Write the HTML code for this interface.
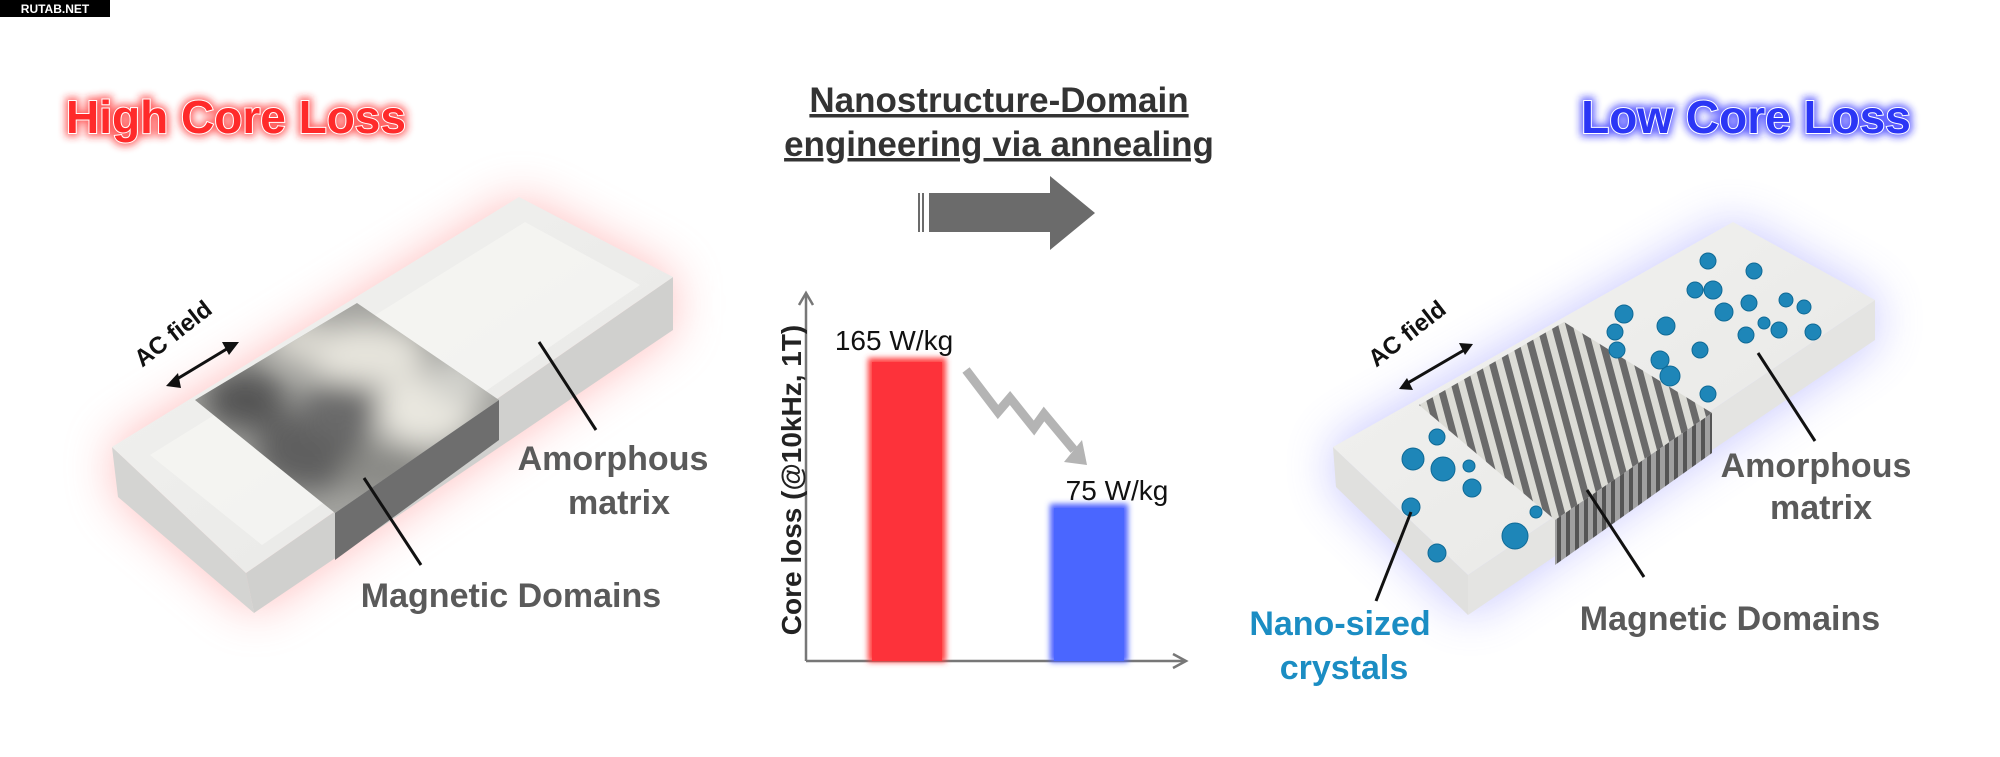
<!DOCTYPE html>
<html><head><meta charset="utf-8"><style>
html,body{margin:0;padding:0;background:#fff;width:2000px;height:757px;overflow:hidden}
svg{display:block}
text{font-family:"Liberation Sans",Arial,sans-serif;font-weight:bold}
</style></head><body>
<svg width="2000" height="757" viewBox="0 0 2000 757" xmlns="http://www.w3.org/2000/svg">
<defs>
<filter id="blur" x="-30%" y="-50%" width="160%" height="200%"><feGaussianBlur stdDeviation="24"/></filter>
<filter id="sb" x="-20%" y="-20%" width="140%" height="140%"><feGaussianBlur stdDeviation="3"/></filter>
<filter id="blob" x="-50%" y="-50%" width="200%" height="200%"><feGaussianBlur stdDeviation="14"/></filter>
<filter id="tglowR" x="-10%" y="-40%" width="120%" height="180%"><feGaussianBlur stdDeviation="4"/></filter>
<linearGradient id="topg" x1="0" y1="0" x2="1" y2="1"><stop offset="0" stop-color="#f3f3f1"/><stop offset="1" stop-color="#e6e6e4"/></linearGradient>
<clipPath id="ldom"><polygon points="195,400 357,303 499,400 335,513"/></clipPath>
<clipPath id="rdom"><polygon points="1419,405 1564,322 1712,413 1555,520"/></clipPath>
<pattern id="stripe" width="14" height="14" patternUnits="userSpaceOnUse" patternTransform="rotate(-15)">
<rect width="14" height="14" fill="#dcdcd6"/><rect width="7" height="14" fill="#6a6a6a"/></pattern>
<pattern id="vstripe" width="9" height="10" patternUnits="userSpaceOnUse"><rect width="9" height="10" fill="#a0a0a0"/><rect width="4" height="10" fill="#555"/></pattern>
</defs>

<rect x="0" y="0" width="110" height="17" fill="#000"/>
<text x="55" y="13" font-size="12" fill="#fff" text-anchor="middle">RUTAB.NET</text>

<g font-size="46">
<text x="236" y="133" text-anchor="middle" fill="#ff2020" stroke="#ff2020" stroke-width="7" filter="url(#tglowR)" opacity="0.7">High Core Loss</text>
<text x="236" y="133" text-anchor="middle" fill="#ff2a2a" stroke="#fff" stroke-width="2" paint-order="stroke">High Core Loss</text>
<text x="1746" y="133" text-anchor="middle" fill="#1a1aff" stroke="#1a1aff" stroke-width="7" filter="url(#tglowR)" opacity="0.7">Low Core Loss</text>
<text x="1746" y="133" text-anchor="middle" fill="#2b36f5" stroke="#fff" stroke-width="2" paint-order="stroke">Low Core Loss</text>
</g>
<g font-size="35" fill="#333" text-anchor="middle">
<text x="999" y="112" text-decoration="underline">Nanostructure-Domain</text>
<text x="999" y="156" text-decoration="underline">engineering via annealing</text>
</g>

<g fill="#6b6b6b">
<rect x="918" y="193" width="2" height="39"/><rect x="922" y="193" width="2" height="39"/>
<polygon points="929,193 1050,193 1050,176 1095,213 1050,250 1050,232 929,232"/>
</g>

<g stroke="#777" stroke-width="2.5" fill="none">
<line x1="806" y1="661" x2="806" y2="294"/>
<polyline points="799,305 806,293 813,305"/>
<line x1="806" y1="661" x2="1185" y2="661"/>
<polyline points="1173,654 1186,661 1173,668"/>
</g>
<rect x="868" y="358" width="78" height="304" fill="#ff4040" filter="url(#sb)"/>
<rect x="872" y="362" width="70" height="299" fill="#fd323a"/>
<rect x="1050" y="504" width="78" height="158" fill="#4d62ff" filter="url(#sb)"/>
<rect x="1054" y="508" width="70" height="153" fill="#4a66ff"/>
<text x="894" y="350" font-size="28" fill="#111" text-anchor="middle" style="font-weight:normal">165 W/kg</text>
<text x="1117" y="500" font-size="28" fill="#111" text-anchor="middle" style="font-weight:normal">75 W/kg</text>
<text transform="translate(801,480) rotate(-90)" font-size="28" fill="#222" text-anchor="middle">Core loss (@10kHz, 1T)</text>
<polyline points="966,370 998,412 1010,398 1034,428 1044,414 1074,450" fill="none" stroke="#b4b4b4" stroke-width="9"/>
<polygon points="1064,462 1087,465 1082,440" fill="#b4b4b4"/>

<!-- LEFT SLAB -->
<polygon points="112,447 519,197 673,277 673,330 254,613 118,497" fill="#ff8080" opacity="0.5" filter="url(#blur)"/>
<polygon points="112,447 246,573 254,613 118,497" fill="#d4d4d2"/>
<polygon points="246,573 673,277 673,330 254,613" fill="#d0d0ce"/>
<polygon points="112,447 519,197 673,277 246,573" fill="url(#topg)"/>
<polygon points="150,455 525,222 640,285 262,545" fill="#f6f6f3" opacity="0.7"/>
<g clip-path="url(#ldom)">
<rect x="190" y="300" width="315" height="215" fill="#a2a29e"/>
<g filter="url(#blob)">
<ellipse cx="310" cy="450" rx="55" ry="40" fill="#5e5e5e"/>
<ellipse cx="365" cy="355" rx="60" ry="30" fill="#e6e4dc"/>
<ellipse cx="425" cy="410" rx="50" ry="35" fill="#e9e7df"/>
<ellipse cx="340" cy="410" rx="40" ry="28" fill="#6a6a6a"/>
<ellipse cx="245" cy="400" rx="40" ry="30" fill="#555"/>
<ellipse cx="390" cy="470" rx="50" ry="25" fill="#8a8a86"/>
<ellipse cx="460" cy="380" rx="30" ry="25" fill="#d0d0cb"/>
<ellipse cx="300" cy="340" rx="30" ry="22" fill="#d9d7cf"/>
</g>
</g>
<polygon points="335,513 499,400 499,440 335,560" fill="#6e6e6e"/>

<g stroke="#111" stroke-width="3"><line x1="539" y1="342" x2="596" y2="430"/><line x1="364" y1="478" x2="421" y2="565"/>
<line x1="172" y1="382" x2="230" y2="347"/></g>
<polygon points="166,386 178,373 181,388" fill="#111"/>
<polygon points="239,342 222,342 229,355" fill="#111"/>
<text transform="translate(178,340) rotate(-38)" font-size="24" fill="#111" text-anchor="middle">AC field</text>
<g font-size="34" fill="#5a5a5a" text-anchor="middle">
<text x="613" y="470">Amorphous</text>
<text x="619" y="514">matrix</text>
<text x="511" y="607">Magnetic Domains</text>
</g>

<!-- RIGHT SLAB -->
<polygon points="1333,447 1733,222 1875,300 1875,340 1468,615 1336,487" fill="#7d7dff" opacity="0.45" filter="url(#blur)"/>
<polygon points="1333,447 1468,575 1468,615 1336,487" fill="#e0e0de"/>
<polygon points="1468,575 1875,300 1875,340 1468,615" fill="#e4e4e2"/>
<polygon points="1333,447 1733,222 1875,300 1468,575" fill="url(#topg)"/>
<g clip-path="url(#rdom)"><rect x="1400" y="300" width="330" height="230" fill="url(#stripe)"/></g>
<polygon points="1555,520 1712,413 1712,453 1555,565" fill="url(#vstripe)"/>

<g fill="#1e86b8" stroke="#0f6a96" stroke-width="1">
<circle cx="1708" cy="261" r="8"/><circle cx="1754" cy="271" r="8"/><circle cx="1695" cy="290" r="8"/><circle cx="1713" cy="290" r="9"/>
<circle cx="1724" cy="312" r="9"/><circle cx="1749" cy="303" r="8"/><circle cx="1786" cy="300" r="7"/><circle cx="1804" cy="307" r="7"/>
<circle cx="1764" cy="323" r="6"/><circle cx="1779" cy="330" r="8"/><circle cx="1813" cy="332" r="8"/><circle cx="1746" cy="335" r="8"/>
<circle cx="1624" cy="314" r="9"/><circle cx="1666" cy="326" r="9"/><circle cx="1615" cy="332" r="8"/><circle cx="1617" cy="350" r="8"/>
<circle cx="1700" cy="350" r="8"/><circle cx="1660" cy="360" r="9"/><circle cx="1670" cy="376" r="10"/><circle cx="1708" cy="394" r="8"/>
<circle cx="1437" cy="437" r="8"/><circle cx="1413" cy="459" r="11"/><circle cx="1443" cy="469" r="12"/><circle cx="1469" cy="466" r="6"/>
<circle cx="1472" cy="488" r="9"/><circle cx="1411" cy="507" r="9"/><circle cx="1515" cy="536" r="13"/><circle cx="1437" cy="553" r="9"/><circle cx="1536" cy="512" r="6"/>
</g>

<g stroke="#111" stroke-width="3"><line x1="1758" y1="353" x2="1815" y2="441"/><line x1="1587" y1="490" x2="1644" y2="577"/><line x1="1411" y1="512" x2="1376" y2="601"/>
<line x1="1406" y1="384" x2="1466" y2="349"/></g>
<polygon points="1399,389 1413,390 1407,378" fill="#111"/>
<polygon points="1473,344 1459,343 1465,355" fill="#111"/>
<text transform="translate(1412,340) rotate(-38)" font-size="24" fill="#111" text-anchor="middle">AC field</text>
<g font-size="34" text-anchor="middle">
<text x="1816" y="477" fill="#5a5a5a">Amorphous</text>
<text x="1821" y="519" fill="#5a5a5a">matrix</text>
<text x="1730" y="630" fill="#5a5a5a">Magnetic Domains</text>
<text x="1340" y="635" fill="#1b8dc3">Nano-sized</text>
<text x="1344" y="679" fill="#1b8dc3">crystals</text>
</g>
</svg>
</body></html>
